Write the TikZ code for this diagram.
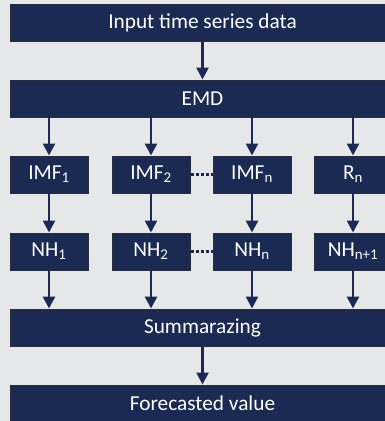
\documentclass[tikz,border=0pt]{standalone}
\usepackage{fontspec}
\setmainfont{Carlito}
\usetikzlibrary{arrows.meta, calc, positioning}

\definecolor{navy}{HTML}{1B2A53}
\definecolor{backgr}{HTML}{E6E7E9}
\definecolor{edge}{HTML}{2B2D3A}

\begin{document}
\begin{tikzpicture}[
    x=1pt, y=-1pt,
    line width = 2.6pt,
    navy,
    every node/.style={font=\fontsize{21.3}{23}\selectfont},
    box/.style={rectangle, fill = navy, draw = edge, line width = 1pt,
        text = white, minimum height = 37pt, inner sep = 0pt},
    widebox/.style={box, minimum width = 385pt},
    smallbox/.style={box, minimum width = 78pt},
    flow/.style={-{Triangle[length=12pt, width=12pt]}},
    gap/.style={dash pattern = on 3pt off 2pt, line width = 3pt}
    ]

    % Determines the boundries
    \clip (0,0) rectangle (385,421);
    \fill[backgr] (0,0) rectangle (385,421);

    \def\mid{202.5}         % center of the wide boxes
    \def\rowA{174.5}        % row of the IMFs
    \def\rowB{251.5}        % row of the NHs

    % Wide boxes
    \node (input) [widebox] at (\mid, 22.5)  {Input time series data};
    \node (emd)   [widebox] at (\mid, 98.5)  {EMD};
    \node (sum)   [widebox] at (\mid, 327.5) {Summarazing};
    \node (fore)  [widebox] at (\mid, 403.5) {Forecasted value};

    % Columns of small boxes
    \foreach \n/\X/\T/\B in {1/49/IMF\textsubscript{1}/NH\textsubscript{1},
                             2/151/IMF\textsubscript{2}/NH\textsubscript{2},
                             3/252/IMF\textsubscript{n}/NH\textsubscript{n},
                             4/353/R\textsubscript{n}/NH\textsubscript{n+1}}{
        \node (imf\n) [smallbox] at (\X, \rowA) {\T};
        \node (nh\n)  [smallbox] at (\X, \rowB) {\B};

        % Arrowing each column
        \draw[flow] (emd.south -| imf\n.north) -- (imf\n.north);
        \draw[flow] (imf\n.south) -- (nh\n.north);
        \draw[flow] (nh\n.south) -- (sum.north -| nh\n.south);
    }

    % Dots between the 2nd and the n-th
    \draw[gap] (imf2.east) -- (imf3.west);
    \draw[gap] (nh2.east) -- (nh3.west);

    % Main arrows
    \draw[flow] (input.south) -- (emd.north);
    \draw[flow] (sum.south) -- (fore.north);
\end{tikzpicture}
\end{document}
